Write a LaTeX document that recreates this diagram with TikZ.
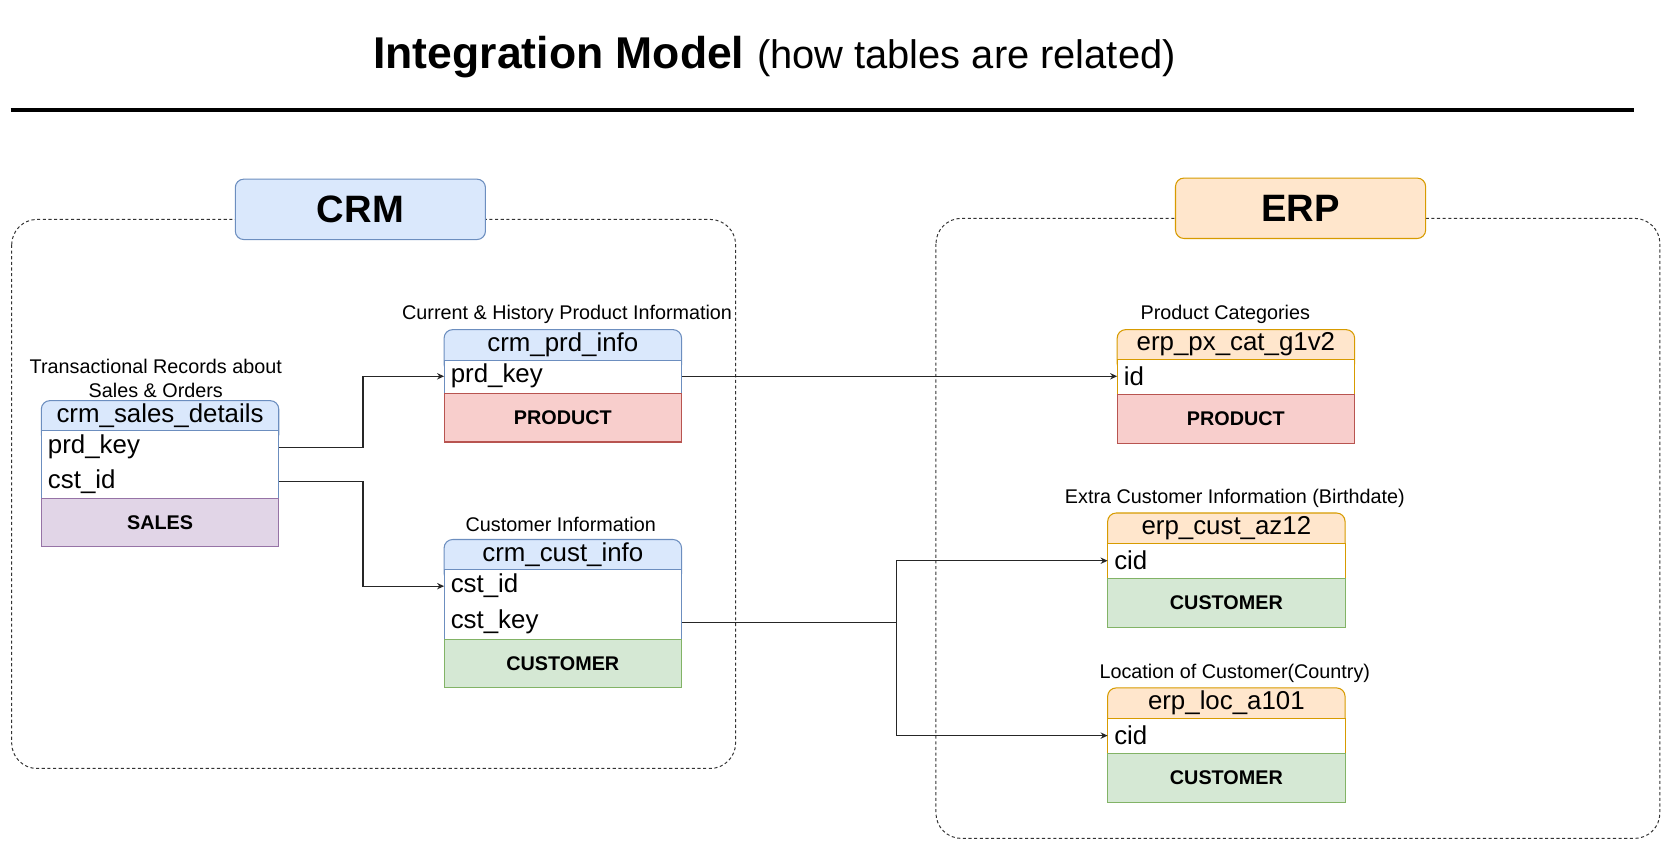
\documentclass[tikz,border=0pt]{standalone}
\usepackage{fontspec}
\setmainfont{Liberation Sans}
\usetikzlibrary{arrows.meta}
\definecolor{blueF}{HTML}{DAE8FC}\definecolor{blueD}{HTML}{6C8EBF}
\definecolor{orangeF}{HTML}{FFE6CC}\definecolor{orangeD}{HTML}{D79B00}
\definecolor{redF}{HTML}{F8CECC}\definecolor{redD}{HTML}{B85450}
\definecolor{greenF}{HTML}{D5E8D4}\definecolor{greenD}{HTML}{82B366}
\definecolor{purpleF}{HTML}{E1D5E7}\definecolor{purpleD}{HTML}{9673A6}
\newcommand{\dbtbl}[7]{%
  \fill[#6F, draw=#6D, line width=0.75pt, rounded corners=6pt] (#1,#2) rectangle ({#1+224},{#3+12});
  \draw[#6D, fill=white, line width=0.75pt] (#1,#3) rectangle ({#1+224},#4);
  \draw[#7D, fill=#7F, line width=0.75pt] (#1,#4) rectangle ({#1+224},#5);
}
\begin{document}
\begin{tikzpicture}[x=0.75pt,y=-0.75pt,
  hdrtxt/.style={inner sep=0pt, font=\fontsize{18.3}{21}\selectfont},
  rowtxt/.style={anchor=west, inner xsep=4.5pt, inner ysep=0pt, text width=159pt, align=left, font=\fontsize{18.3}{21}\selectfont},
  foottxt/.style={inner sep=0pt, font=\bfseries\fontsize{14}{17}\selectfont},
  lbl/.style={inner sep=0pt, align=center, font=\fontsize{14}{16.5}\selectfont},
  conn/.style={draw=black!85, line width=0.9pt, -{Stealth[length=5pt,width=4.5pt]}},
  container/.style={draw=black!80, line width=0.7pt, dash pattern=on 2.2pt off 1.8pt, rounded corners=18pt},
  groupbox/.style={rounded corners=6pt, line width=0.75pt, minimum width=177pt, minimum height=42.75pt, font=\bfseries\fontsize{27}{30}\selectfont}
]
\useasboundingbox (0,0) rectangle (1568,793);

% title
\node[anchor=base west, inner sep=0pt] (title) at (352,65)
  {{\bfseries\fontsize{31.5}{36}\selectfont Integration Model}\hspace{9pt}{\fontsize{28.2}{32}\selectfont (how tables are related)}};
\draw[line width=3pt] (10,104) -- (1542,104);

% containers
\draw[container] (11,207) rectangle (694,725);
\draw[container] (883,206) rectangle (1566,791);
\node[groupbox, fill=blueF, draw=blueD] (crm) at (340,197.5) {CRM};
\node[groupbox, fill=orangeF, draw=orangeD] (erp) at (1227,196.5) {ERP};

% tables
\dbtbl{39}{378}{406}{470}{516}{blue}{purple}
\dbtbl{419}{311}{340}{371}{417}{blue}{red}
\dbtbl{419}{509}{537}{603}{649}{blue}{green}
\dbtbl{1054}{311}{339}{372}{418}{orange}{red}
\dbtbl{1045}{484}{513}{546}{592}{orange}{green}
\dbtbl{1045}{649}{678}{711}{757}{orange}{green}

% crm_sales_details
\node[lbl] (sd_lbl) at (147,357) {Transactional Records about\\Sales \& Orders};
\node[hdrtxt] (sd) at (151,392) {crm\_sales\_details};
\node[rowtxt] (sd_prd) at (39,422) {prd\_key};
\node[rowtxt] (sd_cst) at (39,454) {cst\_id};
\node[foottxt] (sd_f) at (151,493) {SALES};

% crm_prd_info
\node[lbl] (pi_lbl) at (535,297) {Current \& History Product Information};
\node[hdrtxt] (pi) at (531,325.5) {crm\_prd\_info};
\node[rowtxt] (pi_prd) at (419,355) {prd\_key};
\node[foottxt] (pi_f) at (531,394) {PRODUCT};

% crm_cust_info
\node[lbl] (ci_lbl) at (529,495) {Customer Information};
\node[hdrtxt] (ci) at (531,523) {crm\_cust\_info};
\node[rowtxt] (ci_id) at (419,553) {cst\_id};
\node[rowtxt] (ci_key) at (419,587) {cst\_key};
\node[foottxt] (ci_f) at (531,626) {CUSTOMER};

% erp_px_cat_g1v2
\node[lbl] (cat_lbl) at (1156,297) {Product Categories};
\node[hdrtxt] (cat) at (1166,325) {erp\_px\_cat\_g1v2};
\node[rowtxt] (cat_id) at (1054,355) {id};
\node[foottxt] (cat_f) at (1166,395) {PRODUCT};

% erp_cust_az12
\node[lbl] (az_lbl) at (1165,470) {Extra Customer Information (Birthdate)};
\node[hdrtxt] (az) at (1157,498.5) {erp\_cust\_az12};
\node[rowtxt] (az_cid) at (1045,529) {cid};
\node[foottxt] (az_f) at (1157,569) {CUSTOMER};

% erp_loc_a101
\node[lbl] (loc_lbl) at (1165,635) {Location of Customer(Country)};
\node[hdrtxt] (loc) at (1157,663.5) {erp\_loc\_a101};
\node[rowtxt] (loc_cid) at (1045,694) {cid};
\node[foottxt] (loc_f) at (1157,734) {CUSTOMER};

% connectors
\draw[conn] (sd_prd.east) -- ++(79,0) |- (pi_prd.west);
\draw[conn] (sd_cst.east) -- ++(79,0) |- (ci_id.west);
\draw[conn] (pi_prd.east) -- (cat_id.west);
\draw[conn] (ci_key.east) -- ++(202,0) coordinate (split) |- (az_cid.west);
\draw[conn] (split) |- (loc_cid.west);
\end{tikzpicture}
\end{document}
